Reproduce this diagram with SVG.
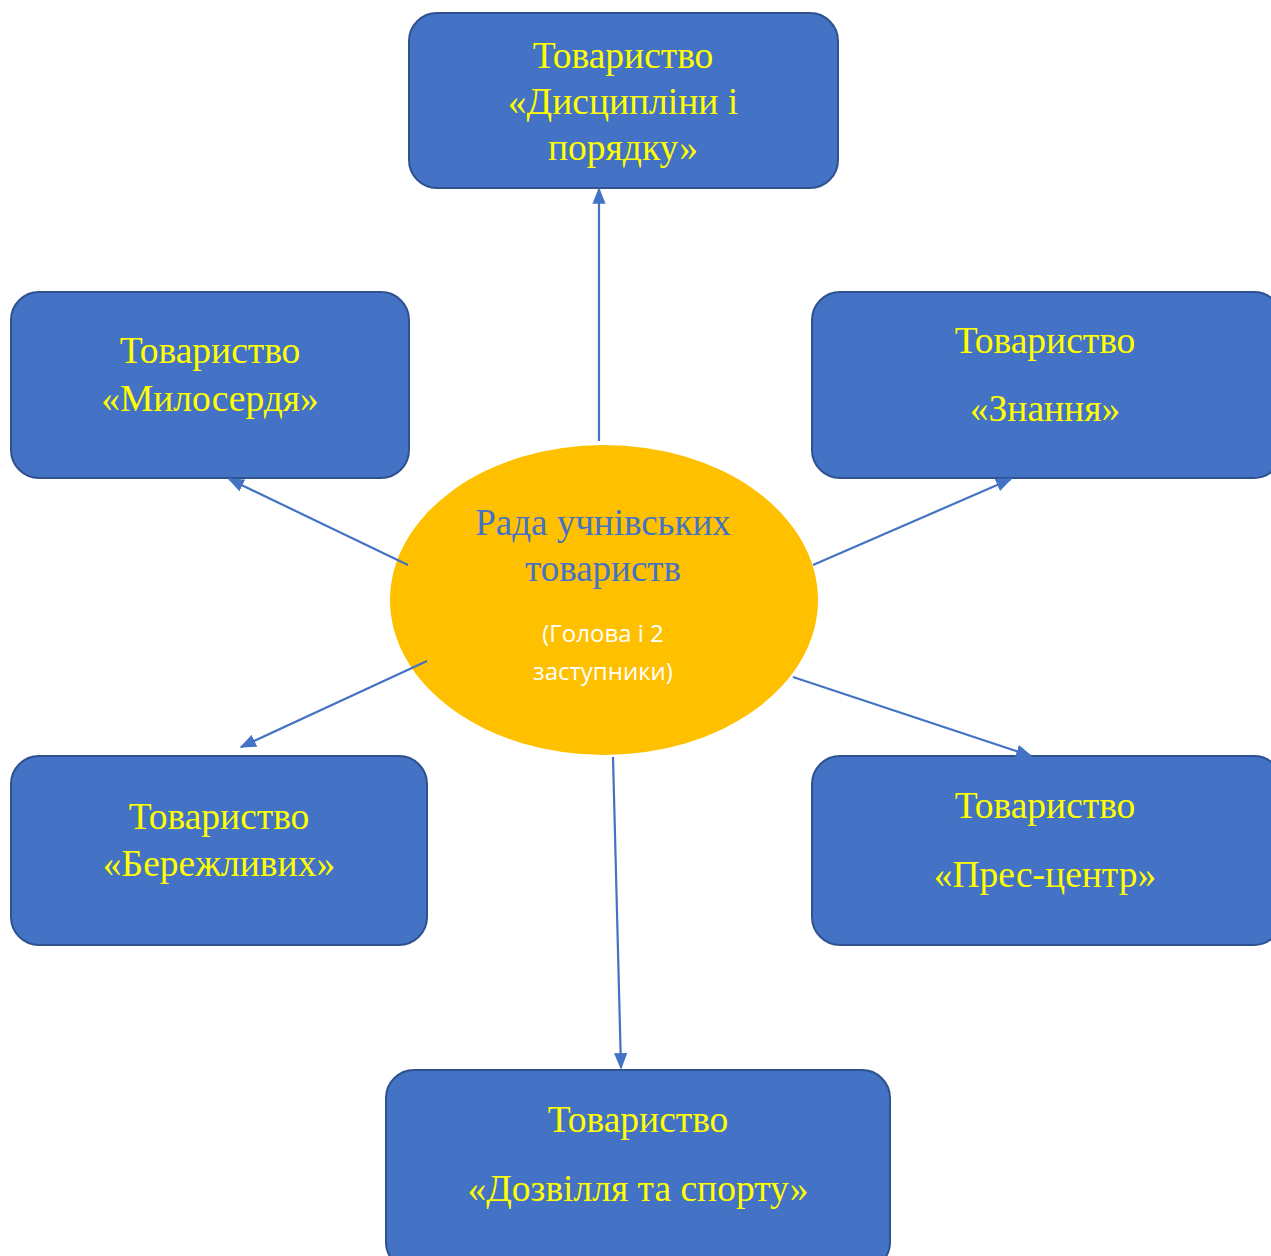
<svg xmlns="http://www.w3.org/2000/svg" width="1271" height="1256" viewBox="0 0 1271 1256">
<defs>
<style>
.box{fill:#4472C4;stroke:#2F528F;stroke-width:2}
.t{font-family:"Liberation Serif","Times New Roman",serif;font-size:37.5px;fill:#FFFF00;text-anchor:middle}
.c{font-family:"Liberation Serif","Times New Roman",serif;font-size:37px;fill:#4472C4;text-anchor:middle}
.s{font-family:"Open Sans","Liberation Sans",Arial,sans-serif;font-size:24px;fill:#FFFFFF;text-anchor:middle}
.e{stroke:#4472C4;stroke-width:2.2;fill:none;marker-end:url(#ah)}
</style>
<marker id="ah" viewBox="0 0 10 10" refX="9" refY="5" markerWidth="7.5" markerHeight="6" markerUnits="strokeWidth" orient="auto" preserveAspectRatio="none">
<path d="M0,0 L10,5 L0,10 Z" fill="#4472C4"/>
</marker>
</defs>
<rect width="1271" height="1256" fill="#FFFFFF"/>
<g id="center">
<ellipse cx="604" cy="600" rx="214" ry="155" fill="#FFC000"/>
<text class="c" x="603" y="535">Рада учнівських</text>
<text class="c" x="603" y="581">товариств</text>
<text class="s" x="603" y="642">(Голова і 2</text>
<text class="s" x="603" y="680">заступники)</text>
</g>
<g id="n-dyscyplina">
<rect class="box" x="409" y="13" width="429" height="175" rx="28"/>
<text class="t" x="623" y="68">Товариство</text>
<text class="t" x="623" y="114">«Дисципліни і</text>
<text class="t" x="623" y="160">порядку»</text>
</g>
<g id="n-myloserdia">
<rect class="box" x="11" y="292" width="398" height="186" rx="28"/>
<text class="t" x="210" y="363">Товариство</text>
<text class="t" x="210" y="411">«Милосердя»</text>
</g>
<g id="n-znannia">
<rect class="box" x="812" y="292" width="470" height="186" rx="28"/>
<text class="t" x="1045" y="353">Товариство</text>
<text class="t" x="1045" y="421">«Знання»</text>
</g>
<g id="n-berezhlyvi">
<rect class="box" x="11" y="756" width="416" height="189" rx="28"/>
<text class="t" x="219" y="829">Товариство</text>
<text class="t" x="219" y="876">«Бережливих»</text>
</g>
<g id="n-prescentr">
<rect class="box" x="812" y="756" width="470" height="189" rx="28"/>
<text class="t" x="1045" y="818">Товариство</text>
<text class="t" x="1045" y="887">«Прес-центр»</text>
</g>
<g id="n-dozvillia">
<rect class="box" x="386" y="1070" width="504" height="200" rx="28"/>
<text class="t" x="638" y="1132">Товариство</text>
<text class="t" x="638" y="1201">«Дозвілля та спорту»</text>
</g>
<g id="connectors">
<line class="e" x1="599" y1="441" x2="599" y2="189"/>
<line class="e" x1="408" y1="565" x2="229" y2="479"/>
<line class="e" x1="813" y1="565" x2="1011" y2="479"/>
<line class="e" x1="427" y1="661" x2="241" y2="747"/>
<line class="e" x1="793" y1="677" x2="1031" y2="756"/>
<line class="e" x1="613" y1="757" x2="621" y2="1068"/>
</g>
</svg>
